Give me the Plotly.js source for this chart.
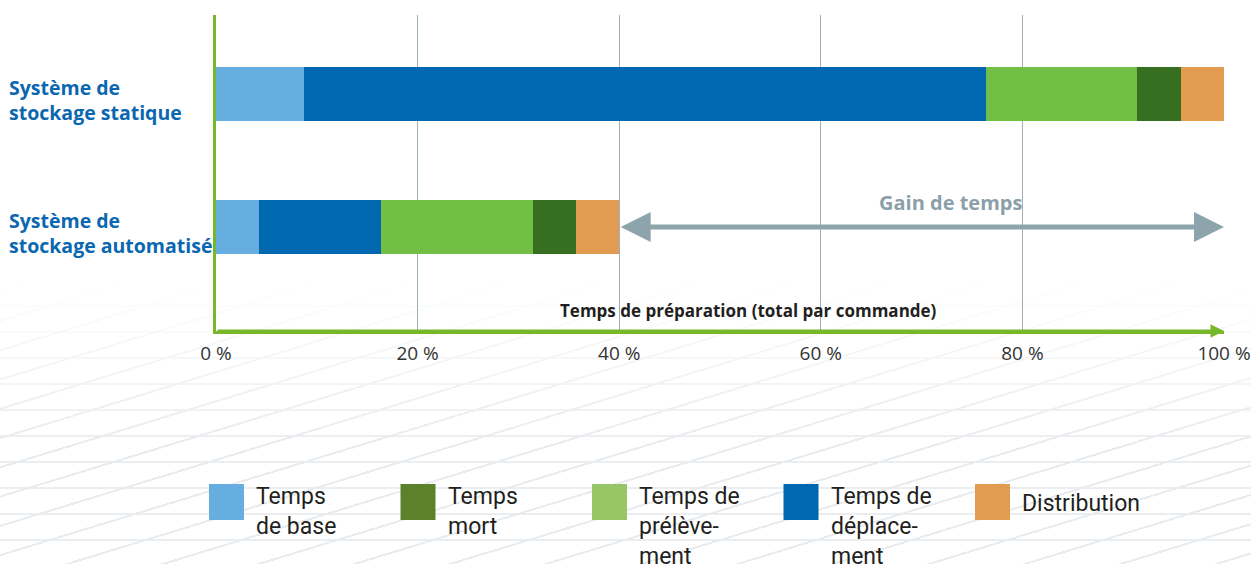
<!DOCTYPE html>
<html>
<head>
<meta charset="utf-8">
<script src="https://cdn.plot.ly/plotly-3.0.1.min.js"></script>
<style>
  html, body { margin: 0; padding: 0; background: #ffffff; }
  #wrap { position: relative; width: 1251px; height: 564px; overflow: hidden; }
  #bg {
    position: absolute; left: 0; top: 0; width: 1251px; height: 564px;
    background-image:
      repeating-linear-gradient(163deg, rgba(0,0,0,0) 0px, rgba(0,0,0,0) 26px, #e8ecef 26px, #e8ecef 28px),
      repeating-linear-gradient(180deg, rgba(0,0,0,0) 0px, rgba(0,0,0,0) 24px, #ebeef1 24px, #ebeef1 26px);
    background-position: 0 0, 0 21px;
    -webkit-mask-image: linear-gradient(to bottom, rgba(0,0,0,0) 280px, rgba(0,0,0,0.55) 370px, #000 450px);
    mask-image: linear-gradient(to bottom, rgba(0,0,0,0) 280px, rgba(0,0,0,0.55) 370px, #000 450px);
  }
  #chart { position: absolute; left: 0; top: 0; width: 1251px; height: 564px; }
</style>
</head>
<body>
<div id="wrap">
  <div id="bg"></div>
  <div id="chart"></div>
</div>
<script>
// ---- data ----
const categories = ['Système de stockage statique', 'Système de stockage automatisé'];
const seriesNames = ['Temps de base', 'Temps de déplacement', 'Temps de prélèvement', 'Temps mort', 'Distribution'];
const tempsBase        = [8.7, 4.3];
const tempsDeplacement = [67.7, 12.1];
const tempsPrelevement = [15.0, 15.0];
const tempsMort        = [4.3, 4.3];
const distribution     = [4.3, 4.3];
const xTickVals = [0, 20, 40, 60, 80, 100];
const xTickText = ['0 %', '20 %', '40 %', '60 %', '80 %', '100 %'];
const legendOrder = [0, 3, 2, 1, 4];
const legendLabels = ['Temps<br>de base', 'Temps<br>mort', 'Temps de<br>prélève-<br>ment', 'Temps de<br>déplace-<br>ment', 'Distribution'];
const xTitle = 'Temps de préparation (total par commande)';
const gainLabel = 'Gain de temps';
const gainFrom = 40, gainTo = 100;

const seriesValues = [tempsBase, tempsDeplacement, tempsPrelevement, tempsMort, distribution];

// ---- styles ----
const seriesColors = ['#66ade0', '#0067b1', '#72bf45', '#376f21', '#e19c51'];
const swatchColors = ['#66ade0', '#0067b1', '#98c566', '#5b822b', '#e19c51'];

// ---- geometry ----
const W = 1251, H = 564;
const M = {l: 216, r: 27, t: 15, b: 233};
const pw = W - M.l - M.r, ph = H - M.t - M.b;
const px2x = px => (px - M.l) / pw;
const py2y = py => (H - M.b - py) / ph;

const green = '#76b82a';
const font = '"Open Sans", "Noto Sans", sans-serif';

const traces = seriesNames.map((n, i) => ({
  type: 'bar', orientation: 'h', name: n,
  y: categories, x: seriesValues[i],
  marker: {color: seriesColors[i], line: {width: 0}},
  showlegend: false, hoverinfo: 'name+x'
}));

const annotations = [];
const shapes = [];

// category labels (left aligned)
categories.forEach(c => {
  annotations.push({
    xref: 'paper', yref: 'y', x: px2x(7), y: c, xanchor: 'left', yanchor: 'middle',
    align: 'left', yshift: -6, showarrow: false,
    text: c.replace(' stockage', '<br>stockage'),
    font: {family: font, size: 19.5, color: '#0a67b0', weight: 700}
  });
});

// x-axis title
annotations.push({
  xref: 'paper', yref: 'paper', x: px2x(748), y: 0, xanchor: 'center', yanchor: 'bottom',
  yshift: 7, showarrow: false, text: xTitle,
  font: {family: font, size: 17, color: '#231f20', weight: 700}
});

// axis arrow head
annotations.push({
  xref: 'x', yref: 'paper', x: 100, y: 0, axref: 'x', ax: 0, ayref: 'pixel', ay: 0,
  showarrow: true, arrowhead: 2, arrowsize: 0.9, arrowwidth: 3, arrowcolor: green, text: ''
});

// gain arrow
annotations.push({
  xref: 'x', yref: 'y', x: gainTo, y: categories[1], axref: 'x', ax: gainFrom, ayref: 'pixel', ay: 0,
  showarrow: true, arrowside: 'end+start', arrowhead: 2, startarrowhead: 2,
  arrowsize: 1.2, startarrowsize: 1.2, arrowwidth: 5, arrowcolor: '#8ea4ad', text: ''
});
annotations.push({
  xref: 'x', yref: 'y', x: 72.9, y: categories[1], yshift: 25, showarrow: false,
  text: gainLabel, font: {family: font, size: 20, color: '#8a9fa9', weight: 700}
});

// custom legend
legendOrder.forEach((si, k) => {
  const sx = 209 + k * 191.5;
  shapes.push({
    type: 'rect', xref: 'paper', yref: 'paper', layer: 'above',
    x0: px2x(sx), x1: px2x(sx + 35), y0: py2y(484), y1: py2y(520),
    fillcolor: swatchColors[si], line: {width: 0}
  });
  annotations.push({
    xref: 'paper', yref: 'paper', x: px2x(sx + 45), y: py2y(si === 4 ? 488 : 481),
    xanchor: 'left', yanchor: 'top', align: 'left', showarrow: false,
    text: legendLabels[k],
    font: {family: 'Roboto, sans-serif', size: 23, color: '#231f20'}
  });
});

const layout = {
  width: W, height: H,
  margin: M,
  paper_bgcolor: 'rgba(0,0,0,0)', plot_bgcolor: 'rgba(0,0,0,0)',
  barmode: 'stack', bargap: 0.594,
  showlegend: false,
  xaxis: {
    range: [0, 100], tickvals: xTickVals, ticktext: xTickText,
    showgrid: true, gridcolor: '#9fafba', gridwidth: 1,
    zeroline: false, showline: true, linecolor: green, linewidth: 3,
    ticks: 'outside', ticklen: 3, tickcolor: 'rgba(0,0,0,0)',
    ticklabeloverflow: 'allow',
    tickfont: {family: font, size: 19, color: '#333333'},
    fixedrange: true
  },
  yaxis: {
    type: 'category', categoryarray: [categories[1], categories[0]],
    range: [-0.782, 1.594], showticklabels: false, showgrid: false,
    zeroline: false, showline: true, linecolor: green, linewidth: 3,
    fixedrange: true
  },
  annotations: annotations,
  shapes: shapes
};

Plotly.newPlot('chart', traces, layout, {displayModeBar: false, staticPlot: true});
</script>
</body>
</html>
